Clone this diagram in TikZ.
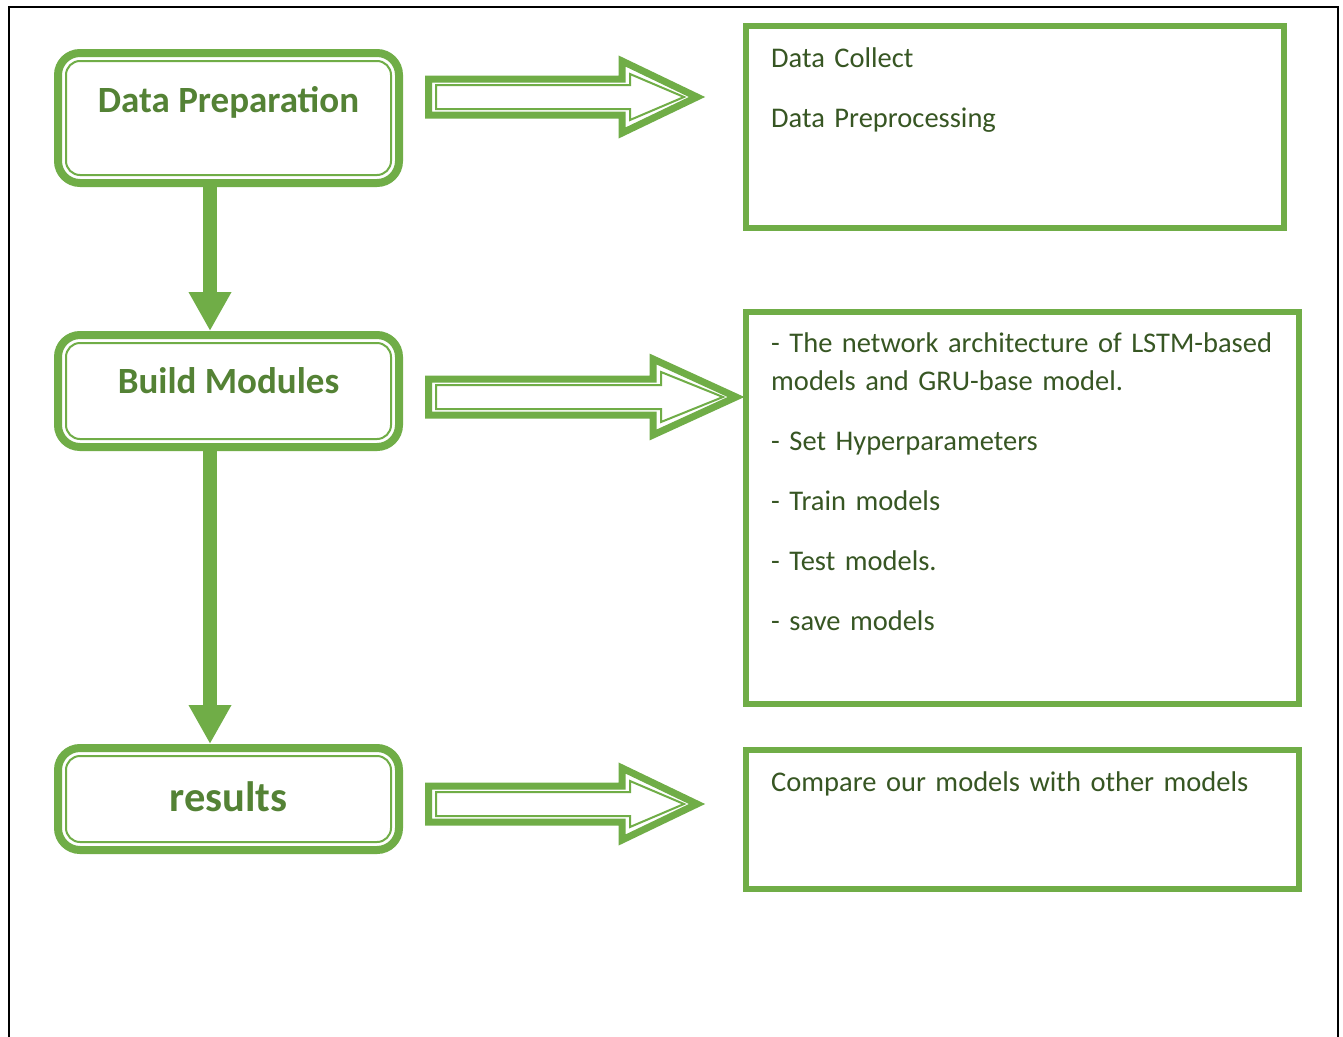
\documentclass[tikz,border=0pt]{standalone}
\usepackage{fontspec}
\setmainfont{Carlito}
\usepackage{xcolor}
\usepackage{tikz}
\usetikzlibrary{positioning,calc,arrows.meta}

\definecolor{leaf}{HTML}{70AD47}
\definecolor{leafdark}{HTML}{548235}
\definecolor{leafdeep}{HTML}{375623}

\begin{document}
\begin{tikzpicture}[x=1pt,y=-1pt,
    stagebox/.style={draw=leaf, line width=8pt, rounded corners=22pt, fill=white,
        minimum width=341pt, text=leafdark, font=\fontsize{37}{44}\selectfont\bfseries},
    panelbox/.style={draw=leaf, line width=6pt},
    note/.style={anchor=base west, align=left, text width=540pt, inner sep=0pt,
        text=leafdeep, font=\fontsize{28.5}{38.6}\selectfont},
    flowline/.style={leaf, line width=14pt, -{Triangle[width=40pt,length=39pt]}},
    blockout/.style={leaf, line width=7pt},
    blockin/.style={leaf, line width=2pt}]

    \fill[white] (0,0) rectangle (1343,1036);
    \useasboundingbox (0,0) rectangle (1343,1036);
    % page frame
    \draw[line width=2pt] (9,1040) -- (9,7) -- (1338,7) -- (1338,1040);

    % left column
    \node[stagebox, minimum height=130pt, text height=26pt, text depth=37pt] (prep) at (228.5,118) {Data Preparation};
    \node[stagebox, minimum height=112pt, text height=26pt, text depth=21.4pt] (build) at (228.5,391) {Build Modules};
    \node[stagebox, minimum height=102pt, text height=26pt, text depth=0.6pt,
        font=\fontsize{42.5}{48}\selectfont\bfseries] (res) at (228.5,799) {results};
    \foreach \s in {prep,build,res}
        \draw[blockin, rounded corners=14pt] ([shift={(12,12)}]\s.north west) rectangle ([shift={(-12,-12)}]\s.south east);

    \draw[flowline] ([xshift=-18.5pt]prep.south) -- ([xshift=-18.5pt]build.north);
    \draw[flowline] ([xshift=-18.5pt]build.south) -- ([xshift=-18.5pt]res.north);

    % right column
    \node[panelbox, minimum width=538pt, minimum height=202pt] (r1) at (1015,127) {};
    \node[panelbox, minimum width=553pt, minimum height=392pt] (r2) at (1022.5,508) {};
    \node[panelbox, minimum width=553pt, minimum height=139pt] (r3) at (1022.5,819.5) {};

    \node[note] (collect) at (771,67) {Data Collect\\[21.4pt]Data Preprocessing};
    \node[note] (steps) at (771,352) {- The network architecture of LSTM-based\\models and GRU-base model.\\[21.4pt]- Set Hyperparameters\\[21.4pt]- Train models\\[21.4pt]- Test models.\\[21.4pt]- save models};
    \node[note] (compare) at (771,791) {Compare our models with other models};

    % block arrows
    \coordinate (t1) at ([shift={(25.5,-21)}]prep.east);
    \coordinate (h1) at (697,97);
    \coordinate (t2) at ([shift={(25.5,6)}]build.east);
    \coordinate (h2) at (736,397);
    \coordinate (t3) at ([shift={(25.5,5)}]res.east);
    \coordinate (h3) at (697,804);
    \foreach \n/\b/\h in {1/75/36, 2/83/38, 3/75/36} {
        \draw[blockout] ($(t\n)+(0,-18)$) -- ($(h\n)+(-\b,-18)$) -- ($(h\n)+(-\b,-\h)$) -- (h\n)
            -- ($(h\n)+(-\b,\h)$) -- ($(h\n)+(-\b,18)$) -- ($(t\n)+(0,18)$) -- cycle;
        \draw[blockin] ($(t\n)+(7.5,-12)$) -- ($(h\n)+(-\b+8,-12)$) -- ($(h\n)+(-\b+8,-\h+13)$) -- ($(h\n)+(-13,0)$)
            -- ($(h\n)+(-\b+8,\h-13)$) -- ($(h\n)+(-\b+8,12)$) -- ($(t\n)+(7.5,12)$) -- cycle;
    }
\end{tikzpicture}
\end{document}
